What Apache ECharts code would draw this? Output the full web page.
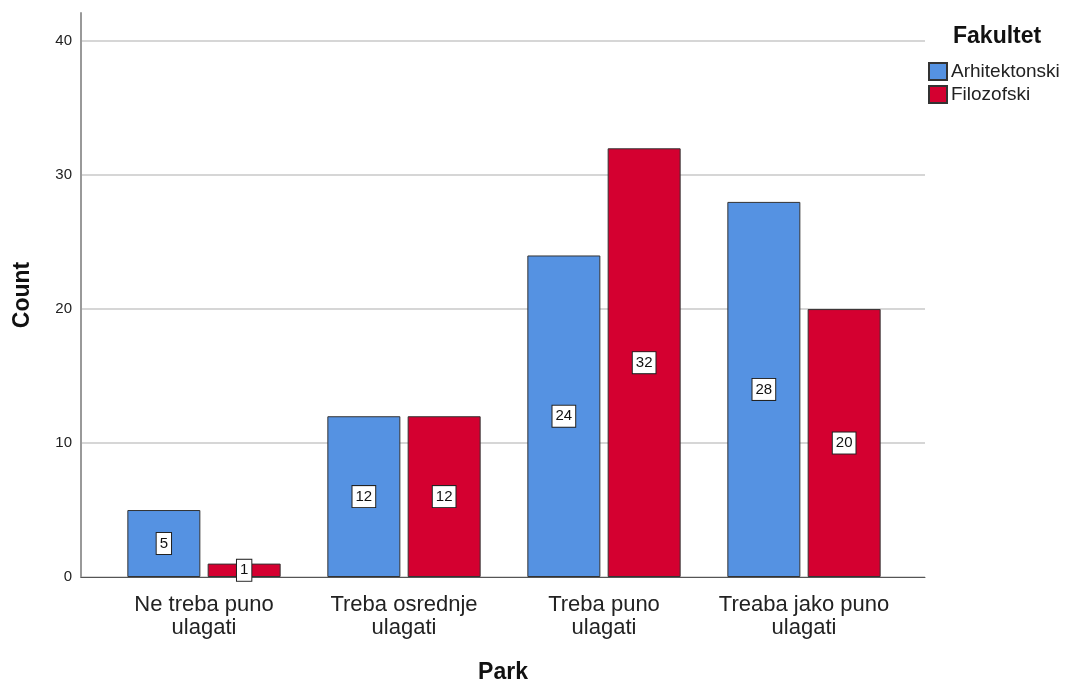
<!DOCTYPE html>
<html><head><meta charset="utf-8">
<script src="https://cdn.jsdelivr.net/npm/echarts@6/dist/echarts.min.js"></script>
<style>html,body{margin:0;padding:0;background:#fff}#c{width:1065px;height:681px}</style>
</head><body><div id="c"></div>
<script>
const categories = ['Ne treba puno\nulagati', 'Treba osrednje\nulagati', 'Treba puno\nulagati', 'Treaba jako puno\nulagati'];
const seriesNames = ['Arhitektonski', 'Filozofski'];
const arhitektonski = [5, 12, 24, 28];
const filozofski = [1, 12, 32, 20];
const yTicks = [0, 10, 20, 30, 40];

const FONT = '"Liberation Sans", Arial, sans-serif';
const yMax = 42.1;
const colors = ['#5592E2', '#D40030'];
const label = {
  show: true, position: 'inside', color: '#111', fontFamily: FONT, fontSize: 15,
  backgroundColor: '#fff', borderColor: '#222', borderWidth: 1, padding: [4, 3, 2, 3]
};
const chart = echarts.init(document.getElementById('c'));
chart.setOption({
  animation: false,
  textStyle: { fontFamily: FONT },
  grid: [
    { left: 81, right: 140, top: 13, bottom: 104, outerBoundsMode: 'none', containLabel: false },
    { left: 104, right: 161, top: 13, bottom: 104, outerBoundsMode: 'none', containLabel: false }
  ],
  title: {
    text: 'Fakultet', left: 953, top: 25, padding: 0,
    textStyle: { fontFamily: FONT, fontSize: 23, fontWeight: 'bold', color: '#111' }
  },
  legend: {
    orient: 'vertical', left: 928, top: 62, itemWidth: 18, itemHeight: 17, itemGap: 4, padding: 0,
    icon: 'rect',
    textStyle: { fontFamily: FONT, fontSize: 19, color: '#222', padding: [0, 0, 0, -1] },
    data: seriesNames
  },
  xAxis: [
    { gridIndex: 0, type: 'value', min: 0, max: 1, axisLabel: { show: false }, axisTick: { show: false },
      splitLine: { show: false }, axisLine: { show: true, lineStyle: { color: '#555', width: 1 } },
      name: 'Park', nameLocation: 'middle', nameGap: 84,
      nameTextStyle: { fontFamily: FONT, fontSize: 23, fontWeight: 'bold', color: '#111' } },
    { gridIndex: 1, type: 'category', data: categories, axisLine: { show: false }, axisTick: { show: false },
      axisLabel: { fontFamily: FONT, fontSize: 22, color: '#222', margin: 16, lineHeight: 23, interval: 0 } }
  ],
  yAxis: [
    { gridIndex: 0, type: 'value', min: 0, max: yMax, interval: 10,
      axisLabel: { fontFamily: FONT, fontSize: 15, color: '#222', margin: 9, showMaxLabel: false,
        formatter: v => yTicks.includes(v) ? String(v) : '' },
      axisLine: { show: true, lineStyle: { color: '#999', width: 2 } }, axisTick: { show: false },
      splitLine: { show: true, showMaxLine: false, lineStyle: { color: '#d6d6d6', width: 2 } },
      name: 'Count', nameLocation: 'middle', nameGap: 47,
      nameTextStyle: { fontFamily: FONT, fontSize: 23, fontWeight: 'bold', color: '#111' } },
    { gridIndex: 1, type: 'value', min: 0, max: yMax, show: false, splitLine: { show: false } }
  ],
  series: [
    { name: seriesNames[0], type: 'bar', xAxisIndex: 1, yAxisIndex: 1, data: arhitektonski,
      barWidth: 73, barGap: '10%',
      itemStyle: { color: colors[0], borderColor: '#333', borderWidth: 1 }, label: label },
    { name: seriesNames[1], type: 'bar', xAxisIndex: 1, yAxisIndex: 1, data: filozofski,
      barWidth: 73, barGap: '10%',
      itemStyle: { color: colors[1], borderColor: '#333', borderWidth: 1 }, label: label }
  ]
});
</script></body></html>
